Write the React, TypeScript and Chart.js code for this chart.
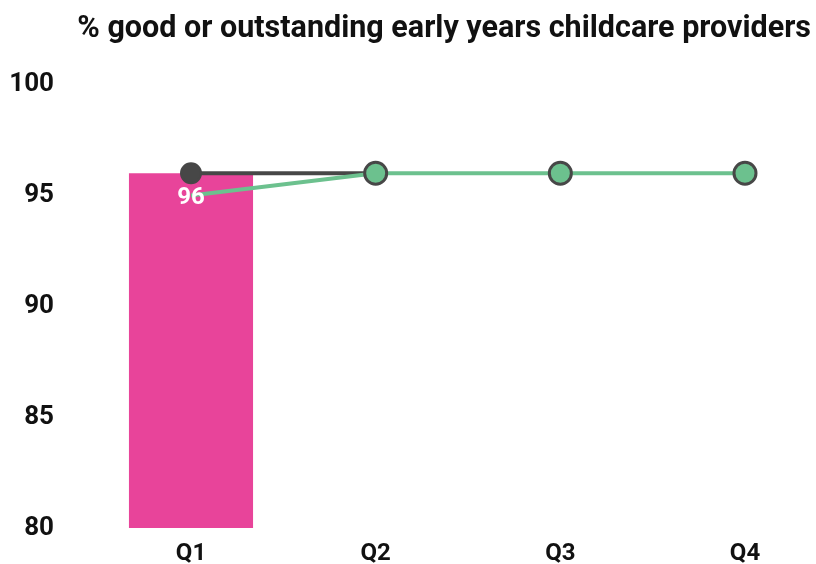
import React, { useEffect, useRef } from "react";
import { Chart, registerables } from "chart.js";

Chart.register(...registerables);

const quarters = ["Q1", "Q2", "Q3", "Q4"];
const currentPct = [96, null, null, null];
const previousPct = [96, 96, null, null];
const comparatorPct = [95, 96, 96, 96];
const yTicks = [80, 85, 90, 95, 100];

const PINK = "#E8449A";
const GREEN = "#6CC18E";
const DARK = "#474747";
const FONT = "Roboto";

// Writes the bar's value inside the top of the bar
const barValueLabel = {
  id: "barValueLabel",
  afterDatasetsDraw(chart: any) {
    const meta = chart.getDatasetMeta(0);
    const ctx = chart.ctx;
    ctx.save();
    ctx.fillStyle = "#ffffff";
    ctx.font = `bold 24px ${FONT}`;
    ctx.textAlign = "center";
    ctx.textBaseline = "middle";
    meta.data.forEach((el: any, i: number) => {
      const v = currentPct[i];
      if (v == null) return;
      ctx.fillText(String(v), el.x, el.y + 25);
    });
    ctx.restore();
  },
};

export default function App() {
  const canvasRef = useRef<HTMLCanvasElement | null>(null);

  useEffect(() => {
    if (!canvasRef.current) return;
    const chart = new Chart(canvasRef.current, {
      type: "bar",
      data: {
        labels: quarters,
        datasets: [
          {
            type: "bar",
            data: currentPct,
            backgroundColor: PINK,
            categoryPercentage: 0.8,
            barPercentage: 0.84,
            clip: { left: false, top: false, right: false, bottom: 0 },
            order: 3,
          } as any,
          {
            type: "line",
            data: previousPct,
            borderColor: DARK,
            borderWidth: 4,
            pointRadius: 10,
            pointBackgroundColor: DARK,
            pointBorderColor: DARK,
            pointBorderWidth: 2,
            clip: false,
            order: 2,
          },
          {
            type: "line",
            data: comparatorPct,
            borderColor: GREEN,
            borderWidth: 4,
            pointRadius: [0, 11, 11, 11],
            pointBackgroundColor: GREEN,
            pointBorderColor: DARK,
            pointBorderWidth: 3,
            clip: false,
            order: 1,
          },
        ],
      },
      options: {
        animation: false,
        responsive: true,
        maintainAspectRatio: false,
        layout: { padding: { left: 0, right: 5, top: 0, bottom: 0 } },
        plugins: {
          legend: { display: false },
          tooltip: { enabled: false },
          title: {
            display: true,
            text: "% good or outstanding early years childcare providers",
            align: "end",
            color: "#111111",
            font: { family: FONT, size: 30.5, weight: "bold" },
            padding: { top: 11, bottom: 37 },
          },
        },
        scales: {
          x: {
            offset: false,
            grid: { display: false, drawTicks: false },
            border: { display: false },
            ticks: {
              color: "#111111",
              font: { family: FONT, size: 24, weight: "bold" },
              padding: 12,
            },
            afterFit: (s: any) => {
              s.height = 36;
            },
          },
          y: {
            min: 80,
            max: 100,
            afterBuildTicks: (s: any) => {
              s.ticks = yTicks.map((v) => ({ value: v }));
            },
            grid: { display: false, drawTicks: false },
            border: { display: false },
            ticks: {
              color: "#111111",
              font: { family: FONT, size: 26, weight: "bold" },
              padding: 137,
            },
            afterFit: (s: any) => {
              s.width = 191;
              s.paddingTop = 12;
              s.paddingBottom = 12;
            },
          },
          y2: {
            position: "right",
            display: true,
            grid: { display: false, drawTicks: false },
            border: { display: false },
            ticks: { display: false },
            afterFit: (s: any) => {
              s.width = 66;
              s.paddingTop = 0;
              s.paddingBottom = 0;
            },
          },
        },
      },
      plugins: [barValueLabel],
    });
    return () => chart.destroy();
  }, []);

  return (
    <div
      style={{
        position: "absolute",
        left: 0,
        top: 0,
        width: 816,
        height: 564,
        background: "#ffffff",
      }}
    >
      <canvas ref={canvasRef} />
    </div>
  );
}
